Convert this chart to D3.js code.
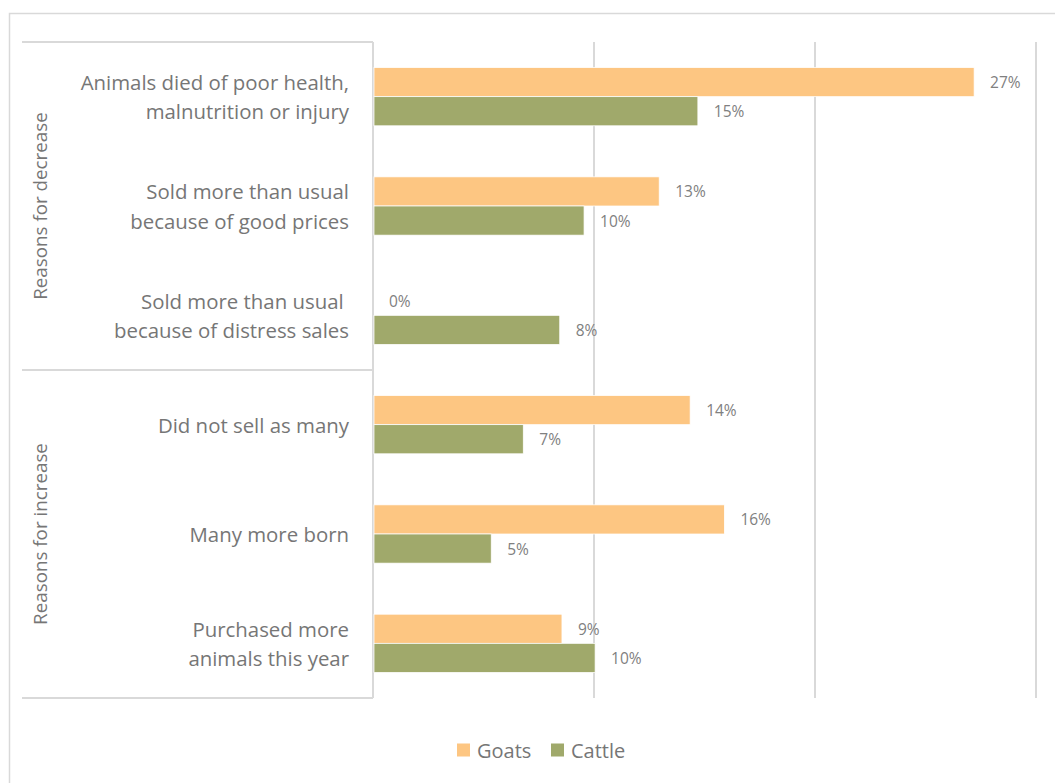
<!DOCTYPE html>
<html>
<head>
<meta charset="utf-8">
<script src="https://cdn.jsdelivr.net/npm/d3@7"></script>
<style>
  html, body { margin: 0; padding: 0; background: #fff; }
  svg { display: block; }
  text { font-family: "Open Sans", Lato, sans-serif; }
</style>
</head>
<body>
<svg id="chart" width="1055" height="783"></svg>
<script>
// Reasons for herd-size change, share of households (%)
const categories = [
  ["Animals died of poor health,", "malnutrition or injury"],
  ["Sold more than usual", "because of good prices"],
  ["Sold more than usual ", "because of distress sales"],
  ["Did not sell as many"],
  ["Many more born"],
  ["Purchased more", "animals this year"]
];
const groups = ["Reasons for decrease", "Reasons for increase"];
const groupSizes = [3, 3];
const seriesNames = ["Goats", "Cattle"];
const goats  = [27.2, 12.95, 0, 14.35, 15.9, 8.55];
const cattle = [14.7, 9.55, 8.45, 6.8, 5.35, 10.05];
const gridTicks = [0, 10, 20, 30];

const colors = { Goats: "#FDC682", Cattle: "#A0A96B" };
const lineColor = "#D9D9D9";
const textColor = "#767676";
const labelColor = "#808080";

const svg = d3.select("#chart");

// outer chart frame
svg.append("rect")
  .attr("x", 9.5).attr("y", 13.5)
  .attr("width", 1100).attr("height", 800)
  .attr("fill", "none").attr("stroke", lineColor).attr("stroke-width", 1.5);

const plot = { left: 373, right: 1036, top: 42, bottom: 698 };

const x = d3.scaleLinear().domain([0, 30]).range([plot.left, plot.right]);
const y = d3.scaleBand()
  .domain(d3.range(categories.length))
  .range([plot.top, plot.bottom])
  .paddingInner(0.467)
  .paddingOuter(0.2335);
const sub = d3.scaleBand().domain(seriesNames).range([0, y.bandwidth()]);

// vertical gridlines
svg.append("g").selectAll("line")
  .data(gridTicks.slice(1))
  .join("line")
  .attr("x1", d => x(d)).attr("x2", d => x(d))
  .attr("y1", plot.top).attr("y2", plot.bottom)
  .attr("stroke", lineColor).attr("stroke-width", 2);

// category axis box with group dividers
const rowH = (plot.bottom - plot.top) / categories.length;
const boxLeft = 22;
const axisG = svg.append("g").attr("stroke", lineColor).attr("stroke-width", 2).attr("fill", "none");
axisG.append("line").attr("x1", x(0)).attr("x2", x(0)).attr("y1", plot.top).attr("y2", plot.bottom);
let cum = 0;
const edges = [0];
groupSizes.forEach(n => { cum += n; edges.push(cum); });
axisG.selectAll("line.div")
  .data(edges)
  .join("line")
  .attr("class", "div")
  .attr("x1", boxLeft).attr("x2", x(0))
  .attr("y1", d => plot.top + d * rowH).attr("y2", d => plot.top + d * rowH);

// group labels, rotated
svg.append("g").selectAll("text")
  .data(groups)
  .join("text")
  .attr("transform", (d, i) => {
    const cy = plot.top + (edges[i] + edges[i + 1]) / 2 * rowH;
    return `translate(40,${cy}) rotate(-90)`;
  })
  .attr("text-anchor", "middle")
  .attr("dominant-baseline", "central")
  .attr("font-size", 18.8)
  .attr("fill", textColor)
  .text(d => d);

// category labels
const catG = svg.append("g");
categories.forEach((lines, i) => {
  const cy = y(i) + y.bandwidth() / 2;
  const lh = 29.5;
  const t = catG.append("text")
    .attr("text-anchor", "end")
    .attr("font-size", 20.4)
    .attr("fill", textColor);
  lines.forEach((ln, j) => {
    t.append("tspan")
      .attr("x", 349)
      .attr("y", cy + (j - (lines.length - 1) / 2) * lh)
      .attr("dominant-baseline", "central")
      .attr("xml:space", "preserve")
      .text(ln);
  });
});

// bars
const rows = categories.map((c, i) => ({ i, Goats: goats[i], Cattle: cattle[i] }));
const barG = svg.append("g");
seriesNames.forEach(s => {
  barG.selectAll(`rect.${s}`)
    .data(rows)
    .join("rect")
    .attr("class", s)
    .attr("x", x(0) + 1)
    .attr("y", d => y(d.i) + sub(s))
    .attr("width", d => Math.max(0, x(d[s]) - x(0) - 1))
    .attr("height", sub.bandwidth())
    .attr("fill", colors[s])
    .attr("stroke", "#fff")
    .attr("stroke-width", 0.75);

  barG.selectAll(`text.${s}`)
    .data(rows)
    .join("text")
    .attr("class", s)
    .attr("x", d => x(d[s]) + 16)
    .attr("y", d => y(d.i) + sub(s) + sub.bandwidth() / 2)
    .attr("dominant-baseline", "central")
    .attr("font-size", 15.5)
    .attr("fill", labelColor)
    .text(d => Math.round(d[s]) + "%");
});

// legend
const legend = svg.append("g").attr("transform", "translate(457,750)");
const legX = [0, 94];
seriesNames.forEach((s, i) => {
  const g = legend.append("g").attr("transform", `translate(${legX[i]},0)`);
  g.append("rect").attr("x", 0).attr("y", -6.5).attr("width", 13).attr("height", 13).attr("fill", colors[s]);
  g.append("text").attr("x", 20).attr("y", 0)
    .attr("dominant-baseline", "central")
    .attr("font-size", 20).attr("fill", textColor).text(s);
});
</script>
</body>
</html>
